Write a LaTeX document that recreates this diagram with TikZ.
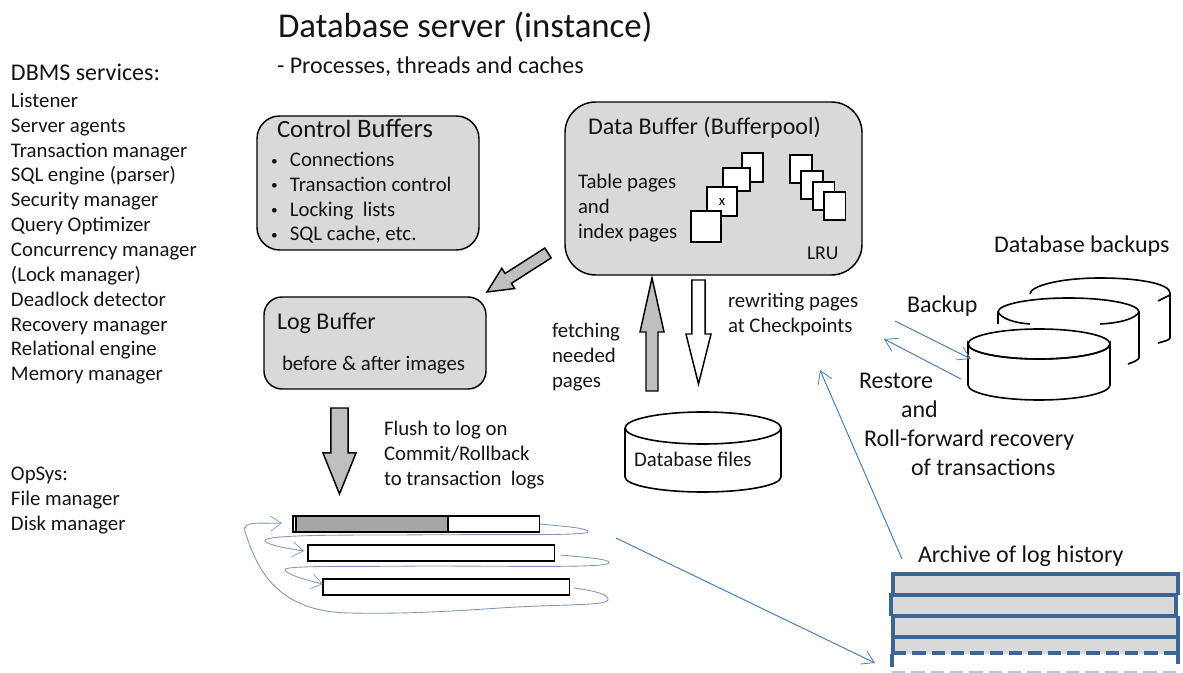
\documentclass[tikz,border=0pt]{standalone}
\usepackage{fontspec}
\setmainfont{Carlito}
\usetikzlibrary{calc,arrows.meta}
\definecolor{boxgray}{HTML}{D9D9D9}
\definecolor{arrowgray}{HTML}{BFBFBF}
\definecolor{bargray}{HTML}{A6A6A6}
\definecolor{thinblue}{HTML}{4A7EBB}
\definecolor{sketchblue}{HTML}{7F93BC}
\definecolor{archiveblue}{HTML}{3C6494}
\definecolor{paleblue}{HTML}{B4C7E0}
\newcommand{\blockarrow}[6]{%
  \coordinate (hb) at ($(#2)!#6!(#1)$);
  \draw[blockline,fill=#3] ($(#1)!#4!90:(#2)$) -- ($(hb)!#4!90:(#2)$) -- ($(hb)!#5!90:(#2)$) -- (#2)
    -- ($(hb)!#5!-90:(#2)$) -- ($(hb)!#4!-90:(#2)$) -- ($(#1)!#4!-90:(#2)$) -- cycle;}
\newcommand{\bul}{\makebox[14.2pt][l]{\raisebox{1pt}{\fontsize{10pt}{10pt}\selectfont•}}}
\tikzset{
  txt/.style={inner sep=0pt,outer sep=0pt,anchor=base west,align=left,text=black!92,font=\fontsize{15.6pt}{18.65pt}\selectfont},
  headtxt/.style={txt,font=\fontsize{18pt}{20pt}\selectfont},
  buffer/.style={draw=black,line width=1.1pt,fill=boxgray,inner sep=0pt,outer sep=0pt},
  page/.style={draw=black,line width=1.1pt,fill=white,inner sep=0pt,outer sep=0pt,anchor=north west},
  blockline/.style={draw=black,line width=1.1pt,line join=miter},
  logbar/.style={draw=black,line width=1.2pt,fill=white,minimum width=185pt,minimum height=12pt,inner sep=0pt,outer sep=0pt,anchor=north west},
  disk/.style={draw=black,line width=1.2pt},
  thin link/.style={draw=thinblue,line width=.75pt,-{Straight Barb[length=9pt,width=11pt,line width=.6pt]}},
  sketch/.style={draw=sketchblue,line width=.65pt,-{Straight Barb[length=8pt,width=11pt,line width=.5pt]}},
  archive/.style={draw=archiveblue,line width=2.4pt},
}
\begin{document}
\begin{tikzpicture}[x=.75pt,y=-.75pt]
\useasboundingbox (0,0) rectangle (1183,673);
% titles
\node[txt,font=\fontsize{26.1pt}{30pt}\selectfont] (title) at (278,38) {Database server (instance)};
\node[headtxt] (subtitle) at (277,74) {- Processes, threads and caches};
% left column
\node[headtxt] (dbms) at (11,81) {DBMS services:};
\node[txt,anchor=north west] (services) at (11,93) {Listener\\Server agents\\Transaction manager\\SQL engine (parser)\\Security manager\\Query Optimizer\\Concurrency manager\\(Lock manager)\\Deadlock detector\\Recovery manager\\Relational engine\\Memory manager};
\node[txt,anchor=north west] (opsys) at (11,467) {OpSys:\\File manager\\Disk manager};
% control buffers
\draw[buffer,rounded corners=17pt] (257,116) rectangle (479,250);
\node[txt,font=\fontsize{18.6pt}{20pt}\selectfont] (ctrl) at (277,138) {Control \fontsize{20pt}{20pt}\selectfont Buffers};
\node[txt,anchor=north west] (ctrllist) at (271,152) {\bul Connections\\\bul Transaction control\\\bul Locking\ \ lists\\\bul SQL cache, etc.};
% data buffer
\draw[buffer,rounded corners=23pt] (565,102) rectangle (862,275);
\node[headtxt] (datat) at (588,135) {Data Buffer (Bufferpool)};
\node[txt,anchor=north west] (tablep) at (578,174) {Table pages\\and\\index pages};
\node[page,minimum width=15.8pt,minimum height=21.8pt] (p1) at (742,153) {};
\node[page,minimum width=20.2pt,minimum height=17.2pt] (p2) at (723,168) {};
\node[page,minimum width=22.5pt,minimum height=21.8pt,font=\fontsize{11pt}{12pt}\selectfont] (p3) at (707,187) {x};
\node[page,minimum width=22.5pt,minimum height=23.2pt] (p4) at (691,211) {};
\node[page,minimum width=16.5pt,minimum height=21pt] (q1) at (790,155) {};
\node[page,minimum width=16.5pt,minimum height=21pt] (q2) at (801,171) {};
\node[page,minimum width=16pt,minimum height=21pt] (q3) at (813,182) {};
\node[page,minimum width=16pt,minimum height=21pt] (q4) at (824,192) {};
\node[txt,font=\fontsize{14.7pt}{16pt}\selectfont] (lru) at (807,260) {LRU};
% log buffer
\draw[buffer,rounded corners=13.5pt] (264,297) rectangle (486,389);
\node[headtxt] (logt) at (277,330) {Log Buffer};
\node[txt] (logsub) at (282,371) {before \& after images};
% block arrows
\coordinate (dA) at (548,253); \coordinate (dB) at (487,292);
\blockarrow{dA}{dB}{arrowgray}{4.4pt}{9pt}{18.9pt}
\coordinate (uA) at (652,391); \coordinate (uB) at (652,278);
\blockarrow{uA}{uB}{arrowgray}{4.5pt}{9pt}{40.5pt}
\coordinate (wA) at (698.5,280); \coordinate (wB) at (698.5,384);
\blockarrow{wA}{wB}{white}{4.9pt}{9.4pt}{37.5pt}
\coordinate (lA) at (339.5,408); \coordinate (lB) at (339.5,494);
\blockarrow{lA}{lB}{arrowgray}{6.4pt}{12.4pt}{30.8pt}
% arrow labels
\node[txt,anchor=north west] (fetch) at (552,323) {fetching\\needed\\pages};
\node[txt,anchor=north west] (rewrite) at (728,293) {rewriting pages\\at Checkpoints};
\node[txt,anchor=north west] (flush) at (384,421) {Flush to log on\\Commit/Rollback\\to transaction\ \ logs};
% database files
\draw[disk] (625,428) arc[start angle=180,end angle=-180,x radius=78,y radius=16];
\draw[disk] (625,428) -- (625,477) arc[start angle=180,end angle=0,x radius=78,y radius=15] -- (781,428);
\node[txt] (dbf) at (634,467) {Database files};
% backups
\node[headtxt] (backups) at (994,253) {Database backups};
\draw[disk] (1030,294) .. controls (1030,286) and (1060,278) .. (1100,278) .. controls (1140,278) and (1170,284) .. (1170,293) -- (1170,338) .. controls (1170,340) and (1165,341) .. (1158,343);
\draw[disk] (1170,295) .. controls (1166,297) and (1162,299) .. (1158,301);
\draw[disk] (998,324) -- (998,312) arc[start angle=180,end angle=360,x radius=70.5,y radius=14] -- (1139,358) .. controls (1138,360) and (1134,362) .. (1128,364);
\draw[disk] (998,312) .. controls (1002,319) and (1015,323) .. (1030,324);
\draw[disk] (1139,312) .. controls (1135,319) and (1120,323) .. (1100,324);
\draw[disk,fill=white] (968,344) -- (968,385) arc[start angle=180,end angle=0,x radius=71,y radius=15] -- (1110,344) arc[start angle=0,end angle=180,x radius=71,y radius=15] -- cycle;
\draw[disk] (968,344) arc[start angle=180,end angle=-180,x radius=71,y radius=15];
\node[headtxt] (backup) at (907,313) {Backup};
\coordinate (bFrom) at (895,321); \coordinate (bTo) at (971,359);
\draw[thin link] (bFrom) -- (bTo);
\coordinate (rFrom) at (961,379); \coordinate (rTo) at (884,339);
\draw[thin link] (rFrom) -- (rTo);
\node[headtxt] (restore) at (859,389) {Restore};
\node[headtxt] (andw) at (901,418) {and};
\node[headtxt] (roll) at (864,447) {Roll-forward recovery};
\node[headtxt] (oftx) at (911,476) {of transactions};
% log bars
\node[logbar] (bar1) at (293,516) {};
\fill[bargray] (296,517) rectangle (448,531);
\draw[line width=1.2pt] (296,516) -- (296,532) (448,516) -- (448,532);
\node[logbar] (bar2) at (308,545) {};
\node[logbar] (bar3) at (323,579) {};
\draw[sketch] (bar1.east) .. controls (560,526) and (590,528) .. (588,532) .. controls (585,536) and (500,534) .. (400,535) .. controls (330,535) and (262,535) .. (265,541) .. controls (267,545) and (290,549) .. (304,551);
\draw[sketch] ($(bar2.east)+(6,2)$) .. controls (580,557) and (612,559) .. (609,563) .. controls (606,568) and (520,566) .. (420,566) .. controls (350,567) and (283,565) .. (285,570) .. controls (287,575) and (310,581) .. (323,584);
\draw[sketch] ($(bar3.east)+(4,1)$) .. controls (590,590) and (610,594) .. (608,600) .. controls (606,606) and (560,604) .. (500,608) .. controls (440,612) and (400,614) .. (350,613) .. controls (270,612) and (255,560) .. (245,532) .. controls (241,520) and (262,524) .. (282,523);
% archive
\fill[boxgray] (893,574) rectangle (1178,654);
\draw[archive] (893,595) -- (893,574) -- (1178,574) -- (1178,595);
\draw[archive] (891,616) -- (891,595) -- (1176,595) -- (1176,616);
\draw[archive] (893,616) -- (1178,616);
\draw[archive] (893,616) -- (893,654) (1178,616) -- (1178,654);
\draw[archive] (893,637) -- (1178,637);
\draw[archive,dash pattern=on 10pt off 4.5pt] (893,653) -- (1178,653);
\draw[archive] (892,654) -- (892,667) (1178,654) -- (1178,664);
\draw[paleblue,line width=.8pt,dash pattern=on 10pt off 4.5pt] (892,672) -- (1178,672);
\node[headtxt] (archt) at (918,563) {Archive of log history};
\coordinate (aFrom) at (616,538); \coordinate (aTo) at (875,663);
\draw[thin link] (aFrom) -- (aTo);
\coordinate (cFrom) at (902,559); \coordinate (cTo) at (820,370);
\draw[thin link] (cFrom) -- (cTo);
\end{tikzpicture}
\end{document}
